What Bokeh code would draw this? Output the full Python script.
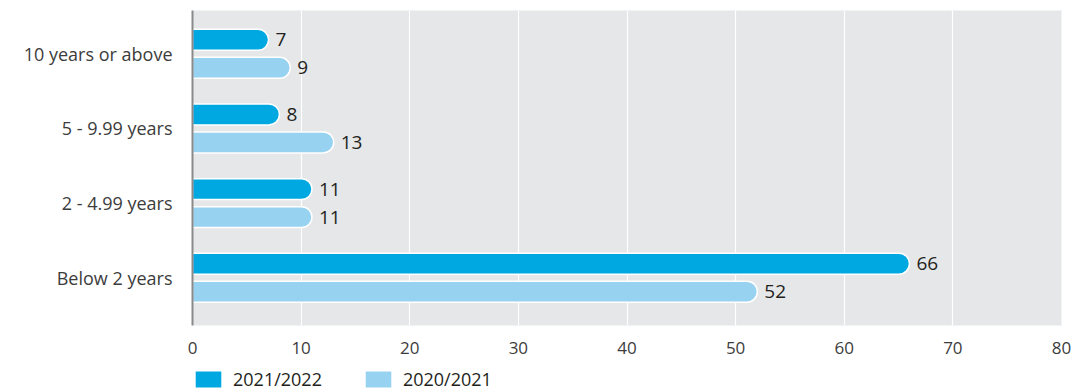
from bokeh.plotting import figure
from bokeh.layouts import column
from bokeh.models import ColumnDataSource, FixedTicker, Legend, LegendItem, Range1d
from bokeh.embed import file_html
from bokeh.resources import INLINE
from bokeh.core.properties import value

categories = ["Below 2 years", "2 - 4.99 years", "5 - 9.99 years", "10 years or above"]
series_names = ["2021/2022", "2020/2021"]
values_2122 = [66, 11, 8, 7]
values_2021 = [52, 11, 13, 9]
x_ticks = [0, 10, 20, 30, 40, 50, 60, 70, 80]

colors = ["#00A8E1", "#97D3F1"]
offsets = [0.1875, -0.1875]
bar_h = 0.28
FONT = "Open Sans"

p = figure(width=1071, height=362, output_backend="svg", toolbar_location=None,
           x_range=Range1d(0, 80), y_range=Range1d(-0.64, 3.58),
           min_border_left=192, min_border_top=10, min_border_right=10, min_border_bottom=37)

p.background_fill_color = "#E6E7E8"
p.border_fill_color = "white"
p.outline_line_color = None

for vals, col, off in zip([values_2122, values_2021], colors, offsets):
    ys = [i + off for i in range(len(categories))]
    src = ColumnDataSource(dict(y=ys, right=vals, label=[str(v) for v in vals]))
    p.hbar(y="y", left=0, right="right", height=bar_h, source=src,
           fill_color=col, line_color="white", line_width=1.5,
           border_radius=(0, 11, 11, 0))
    p.text(x="right", y="y", text="label", source=src, x_offset=7,
           text_baseline="middle", text_align="left", text_font=value(FONT),
           text_font_size="19px", text_color="#231F20")

p.xgrid.ticker = FixedTicker(ticks=x_ticks)
p.xgrid.grid_line_color = "white"
p.xgrid.grid_line_width = 1.2
p.ygrid.grid_line_color = None

p.xaxis.ticker = FixedTicker(ticks=x_ticks)
p.xaxis.axis_line_color = None
p.xaxis.major_tick_line_color = None
p.xaxis.minor_tick_line_color = None
p.xaxis.major_label_standoff = 10
p.xaxis.major_label_text_font = FONT
p.xaxis.major_label_text_font_size = "17px"
p.xaxis.major_label_text_color = "#3C3C3C"

p.yaxis.ticker = FixedTicker(ticks=list(range(len(categories))))
p.yaxis.major_label_overrides = {i: c for i, c in enumerate(categories)}
p.yaxis.axis_line_color = "#8A8A8A"
p.yaxis.axis_line_width = 2
p.yaxis.major_tick_line_color = None
p.yaxis.minor_tick_line_color = None
p.yaxis.major_label_standoff = 14
p.yaxis.major_label_text_font = FONT
p.yaxis.major_label_text_font_size = "18px"
p.yaxis.major_label_text_color = "#3C3C3C"

# legend strip below the chart
lg = figure(width=1071, height=29, output_backend="svg", toolbar_location=None,
            x_range=Range1d(0, 1), y_range=Range1d(0, 1),
            x_axis_location=None, y_axis_location=None,
            min_border_left=192, min_border_top=0, min_border_right=10, min_border_bottom=0)
lg.grid.visible = False
lg.outline_line_color = None
lg.background_fill_color = None
lg.border_fill_color = "white"

items = []
for col, name in zip(colors, series_names):
    # zero-width placeholder bar: only its legend swatch is seen
    r = lg.hbar(y=[0.5], left=[0], right=[0], height=0.1, fill_color=col, line_color=None,
                border_radius=(0, 10, 10, 0))
    items.append(LegendItem(label=name, renderers=[r]))

legend = Legend(items=items, orientation="horizontal", location=(0, 0),
                glyph_width=32, glyph_height=20, label_text_font=FONT,
                label_text_font_size="18px", label_text_color="#231F20",
                spacing=40, padding=0, margin=0, label_standoff=9,
                border_line_color=None, background_fill_alpha=0)
lg.add_layout(legend)

layout = column(p, lg, spacing=0)
open("out.html", "w").write(file_html(layout, INLINE))
